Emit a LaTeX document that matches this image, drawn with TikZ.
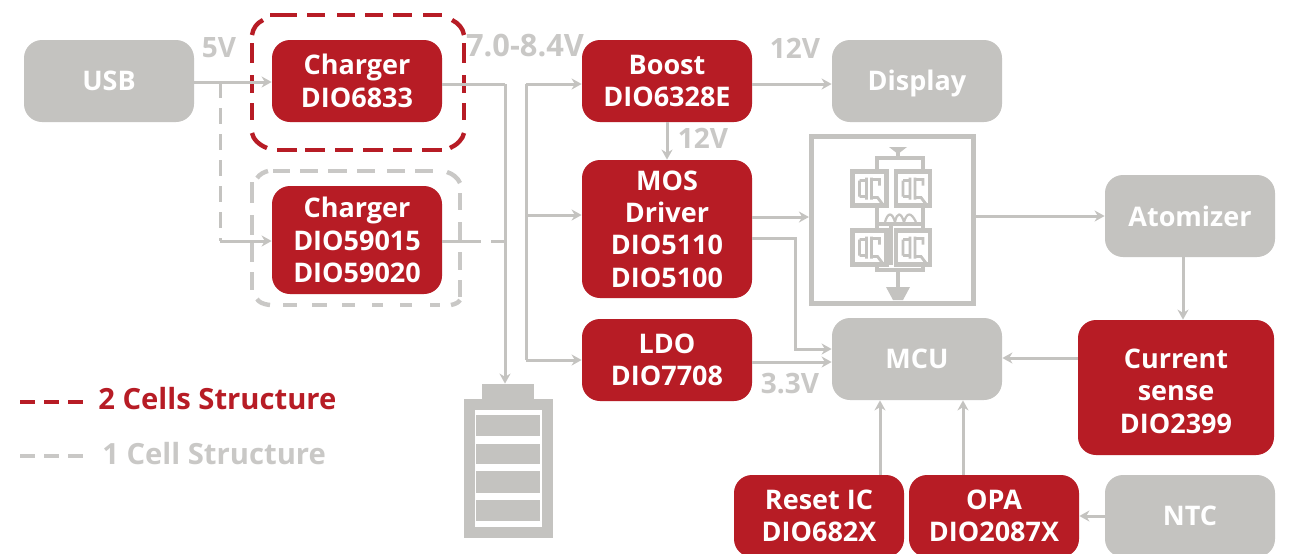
\documentclass[tikz,border=0pt]{standalone}
\usepackage{fontspec}
\setmainfont{Open Sans}
\usetikzlibrary{arrows.meta}
\definecolor{dred}{HTML}{B71C25}
\definecolor{dgray}{HTML}{C4C3C0}
\definecolor{lgray}{HTML}{C9C8C6}
\tikzset{
  x=0.5pt,y=-0.5pt,
  boxbase/.style={rounded corners=9pt,minimum width=85pt,inner sep=0pt,align=center,font=\fontsize{13.5}{16.2}\selectfont\bfseries,text=white},
  redbox/.style={boxbase,fill=dred},
  graybox/.style={boxbase,fill=dgray},
  wire/.style={draw=dgray,line width=1.5pt},
  link/.style={wire,-{Stealth[length=5pt,width=5.5pt]}},
  dashgray/.style={wire,dash pattern=on 8pt off 5pt},
  voltlabel/.style={text=lgray,inner sep=0pt,font=\fontsize{14}{16}\selectfont\bfseries},
  legendlabel/.style={inner sep=0pt,anchor=west,font=\fontsize{14.6}{16}\selectfont\bfseries},
  seg/.style={line width=2.2pt},
  fet/.pic={
    \draw[draw=dgray,line width=2.2pt] (-17,-17) rectangle (17,17);
    \draw[draw=dgray,line width=1.4pt] (-10,-8) -- (-3,-8) (-10,8) -- (-3,8) (-10,-8) -- (-10,8)
      (-3,-11) -- (-3,11) (2,-11) -- (2,11) (2,-9) -- (10,-9) -- (10,-3) (2,9) -- (8,9) -- (14,17);
  },
}
\begin{document}
\begin{tikzpicture}
\clip (0,0) rectangle (1292,553);
\useasboundingbox (0,0) rectangle (1292,553);
\fill[white] (0,0) rectangle (1292,553);

% wires first
\coordinate (j5v) at (220,82);
\coordinate (j5vb) at (220,241);
\coordinate (busA) at (505,84);
\coordinate (busB) at (526,84);
\coordinate (busC) at (526,360);
\coordinate (busM) at (526,215);
\coordinate (ch2j) at (465,241);
\coordinate (ch2k) at (505,241);
\coordinate (mosA) at (795,238);
\coordinate (mosB) at (795,349);

% nodes
\node[graybox,minimum height=41pt] (usb) at (109,81) {USB};
\node[redbox,minimum height=41pt] (ch1) at (357,81) {Charger\\DIO6833};
\node[redbox,minimum height=54pt] (ch2) at (357,240) {Charger\\DIO59015\\DIO59020};
\node[redbox,minimum height=41pt] (boost) at (667,81) {Boost\\DIO6328E};
\node[graybox,minimum height=41pt,text depth=1pt] (display) at (917,81) {Display};
\node[redbox,minimum height=69pt] (mos) at (667,229) {MOS\\Driver\\DIO5110\\DIO5100};
\node[redbox,minimum height=41pt] (ldo) at (667,360) {LDO\\DIO7708};
\node[graybox,minimum height=41pt] (mcu) at (917,359) {MCU};
\node[graybox,minimum height=41pt] (atom) at (1190,216) {Atomizer};
\node[redbox,minimum width=98pt,minimum height=67.5pt] (sense) at (1176,387.5) {\rule{0pt}{13.6pt}Current\\sense\\DIO2399};
\node[redbox,minimum height=41pt] (reset) at (819,516) {Reset IC\\DIO682X};
\node[redbox,minimum height=41pt] (opa) at (994,516) {OPA\\DIO2087X};
\node[graybox,minimum height=41pt] (ntc) at (1190,516) {NTC};
\node[draw=dgray,line width=2.6pt,minimum width=81pt,minimum height=83.5pt,inner sep=0pt] (bridge) at (892.5,220) {};
\node[fill=dgray,minimum width=26pt,minimum height=8pt,inner sep=0pt] (batcap) at (508,392) {};
\node[draw=dgray,line width=5.5pt,minimum width=39pt,minimum height=64pt,inner sep=0pt] (bat) at (508,468) {};

% dashed regions, dash by dash
\foreach \a/\b in {270/297,307/325,337/355,365/383,393/412,423/442} \draw[dred,seg] (\a,15) -- (\b,15);
\foreach \a/\b in {277/297,305/325,335/353,363/383,393/412,422/442} \draw[dred,seg] (\a,150) -- (\b,150);
\foreach \a/\b in {43/63,75/93,103/120} {\draw[dred,seg] (252,\a) -- (252,\b); \draw[dred,seg] (464,\a) -- (464,\b);}
\draw[dred,seg] (252,35) .. controls (253,28) and (257,23) .. (263,20);
\draw[dred,seg] (452,20) .. controls (458,23) and (463,28) .. (464,35);
\draw[dred,seg] (464,133) .. controls (463,139) and (457,145) .. (450,148);
\draw[dred,seg] (252,133) .. controls (253,139) and (259,145) .. (267,148);
\foreach \a/\b in {273/290,300/318,328/347,357/375,387/405,415/433} \draw[lgray,seg] (\a,171) -- (\b,171);
\foreach \a/\b in {283/297,312/327,342/355,372/383,400/412,430/440} \draw[lgray,seg] (\a,305) -- (\b,305);
\foreach \a/\b in {182/203,215/235,243/262,272/290} \draw[lgray,seg] (252,\a) -- (252,\b);
\foreach \a/\b in {193/210,222/240,252/270,280/297} \draw[lgray,seg] (460,\a) -- (460,\b);
\draw[lgray,seg] (257,178) .. controls (260,174) and (264,172) .. (268,171);
\draw[lgray,seg] (447,172) .. controls (453,174) and (458,178) .. (460,183);
\draw[lgray,seg] (460,300) .. controls (459,302) and (456,304) .. (451,305);
\draw[lgray,seg] (257,299) .. controls (259,302) and (262,304) .. (270,305);

% connectors
\draw[link] (usb.east |- j5v) -- (ch1.west |- j5v);
\draw[dashgray] (j5v) -- (j5vb);
\draw[link] (j5vb) -- (ch2.west |- j5vb);
\draw[wire] (ch1.east |- busA) -- (busA);
\draw[link] (busA) -- (batcap.north -| busA);
\draw[wire] (ch2.east |- ch2j) -- (ch2j);
\draw[dashgray] (ch2j) -- (ch2k);
\draw[wire] (busC) -- (busB);
\draw[link] (busB) -- (boost.west |- busB);
\draw[link] (busM) -- (mos.west |- busM);
\draw[link] (busC) -- (ldo.west |- busC);
\draw[link] (boost.east |- busB) -- (display.west |- busB);
\draw[link] (boost.south) -- (mos.north);
\draw[link] (mos.east |- 0,217) -- (bridge.west |- 0,217);
\draw[link] (bridge.east |- atom.west) -- (atom.west);
\draw[link] (atom.south -| 1183,0) -- (sense.north -| 1183,0);
\draw[link] (sense.west |- 0,358) -- (mcu.east |- 0,358);
\draw[link] (mos.east |- mosA) -- (mosA) -- (mosB) -- (mcu.west |- mosB);
\draw[link] (ldo.east |- 0,362) -- (mcu.west |- 0,362);
\draw[link] (reset.north -| 880,0) -- (mcu.south -| 880,0);
\draw[link] (opa.north -| 963,0) -- (mcu.south -| 963,0);
\draw[link] (ntc.west) -- (opa.east);

% bridge icon
\begin{scope}[draw=dgray]
\draw[line width=1.6pt] (877,172) -- (877,158) -- (923,158) -- (923,172)
  (877,205) -- (877,231) (923,205) -- (923,231)
  (877,224) -- (923,224) (891,224) -- (891,265)
  (877,264) -- (877,270) -- (923,270) -- (923,264)
  (898,158) -- (898,150) (898,270) -- (898,288);
\draw[line width=1.1pt] (885,222) .. controls (888,212) and (892,212) .. (895,222) .. controls (897,212) and (901,212) .. (904,222) .. controls (907,212) and (911,212) .. (916,222);
\end{scope}
\fill[dgray] (889,147) -- (907,147) -- (898,154) -- cycle;
\fill[dgray] (886,287) -- (910,287) -- (903,300) -- (893,300) -- cycle;
\pic at (869.5,188.5) {fet};
\pic at (913,188.5) {fet};
\pic at (869.5,247.5) {fet};
\pic at (913,247.5) {fet};

% battery cells
\fill[dgray] (476,415) rectangle (540,436);
\fill[dgray] (476,444) rectangle (540,464);
\fill[dgray] (476,471) rectangle (540,493);
\fill[dgray] (476,500) rectangle (540,521);

% voltage labels
\node[voltlabel] (v5) at (219,48) {5V};
\node[voltlabel,font=\fontsize{15.4}{16}\selectfont\bfseries] (v78) at (525,46) {7.0-8.4V};
\node[voltlabel] (v12a) at (795,48) {12V};
\node[voltlabel] (v12b) at (703,138) {12V};
\node[voltlabel] (v33) at (790,384) {3.3V};

% legend
\coordinate (la) at (20,402);
\coordinate (lb) at (86,402);
\coordinate (lc) at (20,456);
\coordinate (ld) at (86,456);
\draw[draw=dred,line width=2pt,dash pattern=on 7.5pt off 4.5pt] (la) -- (lb);
\draw[draw=lgray,line width=2pt,dash pattern=on 7.5pt off 4.5pt] (lc) -- (ld);
\node[legendlabel,text=dred] (l2) at (98,399) {2 Cells Structure};
\node[legendlabel,text=lgray] (l1) at (102,454) {1 Cell Structure};
\end{tikzpicture}
\end{document}
